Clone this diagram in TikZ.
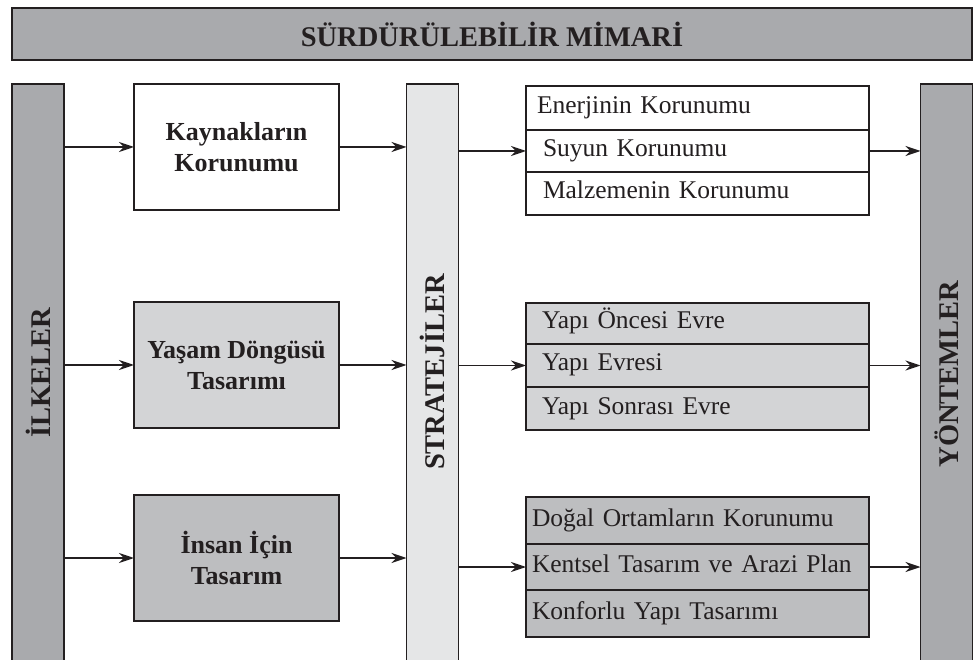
\documentclass[tikz,border=0pt]{standalone}
\usepackage{fontspec}
\setmainfont{Liberation Serif}
\usetikzlibrary{arrows.meta}
\definecolor{barA}{RGB}{169,170,173}
\definecolor{barL}{RGB}{229,230,231}
\definecolor{boxM}{RGB}{211,212,214}
\definecolor{boxD}{RGB}{189,190,192}
\definecolor{ink}{RGB}{35,31,32}
\begin{document}
\begin{tikzpicture}[x=1pt,y=-1pt,
  every node/.style={inner sep=0pt, outer sep=0pt, text=ink},
  bar/.style={fill=#1, anchor=north west, minimum width=52pt, minimum height=580pt},
  baredge/.style={draw=ink, line width=1.7pt},
  vtext/.style={rotate=90, font=\bfseries\fontsize{28.5}{30}\selectfont},
  pbox/.style={draw=ink, line width=1.7pt, fill=#1, anchor=north west, minimum width=205pt, minimum height=126pt, align=center, font=\bfseries\fontsize{26}{31}\selectfont},
  row/.style={draw=ink, line width=1.7pt, fill=#1, anchor=north west, align=left, text height=17pt, text depth=6pt, font=\fontsize{25.5}{30}\selectfont},
  arr/.style={-{Stealth[length=15pt,width=10pt,inset=5pt]}, line width=1.6pt, draw=ink}
]
\useasboundingbox (0,0) rectangle (978,660);
\fill[white] (0,0) rectangle (978,660);

% title
\node[draw=ink, line width=2pt, fill=barA, anchor=north west, minimum width=960pt, minimum height=52pt, font=\bfseries\fontsize{28.5}{30}\selectfont] (title) at (12,8) {SÜRDÜRÜLEBİLİR MİMARİ};

% vertical bars
\node[bar=barA] (ilk) at (12,84) {};
\node[bar=barL] (str) at (406.5,84) {};
\node[bar=barA] (yon) at (920.5,84) {};
\foreach \b in {ilk,str,yon}{
  \draw[baredge] (\b.south west) -- (\b.north west) -- (\b.north east) -- (\b.south east);
}
\node[vtext] (ilkt) at (38,373) {İLKELER};
\node[vtext] (strt) at (432.5,372) {STRATEJİLER};
\node[vtext] (yont) at (946.5,374) {YÖNTEMLER};

% principle boxes
\node[pbox=white] (k1) at (134,84) {Kaynakların\\Korunumu};
\node[pbox=boxM] (k2) at (134,302) {Yaşam Döngüsü\\Tasarımı};
\node[pbox=boxD] (k3) at (134,495) {İnsan İçin\\Tasarım};

% group 1
\node[row=white, minimum height=44pt, inner xsep=11pt, text width=321pt] (g1a) at (526,86) {Enerjinin Korunumu};
\node[row=white, minimum height=42pt, inner xsep=17pt, text width=309pt] (g1b) at (526,130) {Suyun Korunumu};
\node[row=white, minimum height=43pt, inner xsep=17pt, text width=309pt] (g1c) at (526,172) {Malzemenin Korunumu};
% group 2
\node[row=boxM, minimum height=41pt, inner xsep=16pt, text width=311pt] (g2a) at (526,303) {Yapı Öncesi Evre};
\node[row=boxM, minimum height=43pt, inner xsep=16pt, text width=311pt] (g2b) at (526,344) {Yapı Evresi};
\node[row=boxM, minimum height=43pt, inner xsep=16pt, text width=311pt] (g2c) at (526,387) {Yapı Sonrası Evre};
% group 3
\node[row=boxD, minimum height=47pt, inner xsep=6pt, text width=331pt] (g3a) at (526,497) {Doğal Ortamların Korunumu};
\node[row=boxD, minimum height=46pt, inner xsep=6pt, text width=331pt] (g3b) at (526,544) {Kentsel Tasarım ve Arazi Plan};
\node[row=boxD, minimum height=47pt, inner xsep=6pt, text width=331pt] (g3c) at (526,590) {Konforlu Yapı Tasarımı};

% arrows
\foreach \k/\g in {k1/g1b,k2/g2b,k3/g3b}{
  \draw[arr] (ilk.east |- \k.west) -- (\k.west);
  \draw[arr] (\k.east) -- (str.west |- \k.east);
  \draw[arr] (str.east |- \g.west) -- (\g.west);
  \draw[arr] (\g.east) -- (yon.west |- \g.east);
}
\end{tikzpicture}
\end{document}
